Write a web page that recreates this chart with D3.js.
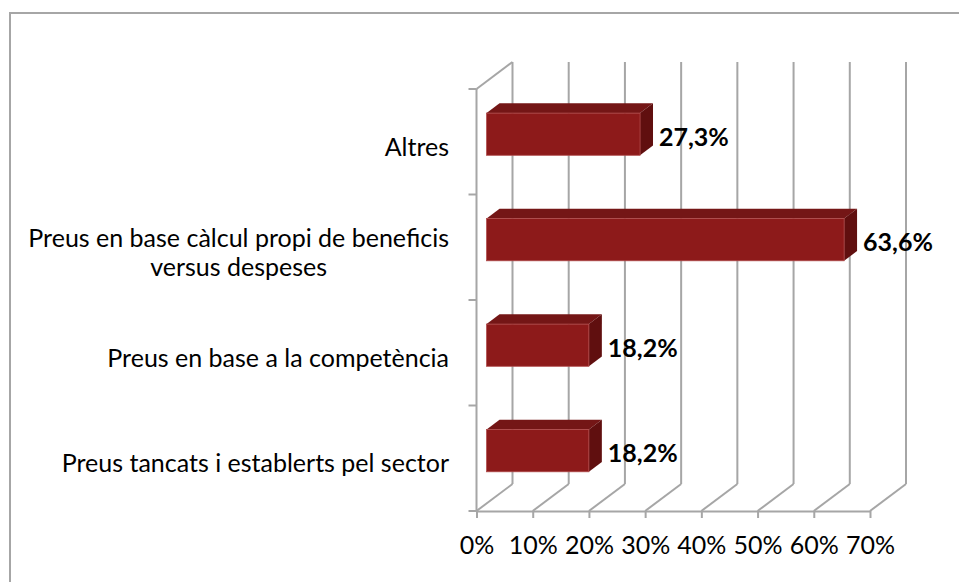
<!DOCTYPE html>
<html>
<head>
<meta charset="utf-8">
<script src="https://cdn.jsdelivr.net/npm/d3@7"></script>
<style>
  body { margin: 0; background: #fff; }
  svg { display: block; font-family: Lato, "Open Sans", sans-serif; }
</style>
</head>
<body>
<div id="chart"></div>
<script>
// chart data
var categories = [
  "Altres",
  "Preus en base càlcul propi de beneficis versus despeses",
  "Preus en base a la competència",
  "Preus tancats i establerts pel sector"
];
var values = [0.273, 0.636, 0.182, 0.182];
var tickValues = [0, 0.1, 0.2, 0.3, 0.4, 0.5, 0.6, 0.7];

var svgWidth = 959, svgHeight = 582;

var svg = d3.select("#chart")
  .append("svg")
  .attr("width", svgWidth)
  .attr("height", svgHeight);

// outer frame (runs off the picture on the right and bottom)
svg.append("rect")
  .attr("x", 10).attr("y", 13)
  .attr("width", 980).attr("height", 620)
  .attr("fill", "#fff")
  .attr("stroke", "#a6a6a6")
  .attr("stroke-width", 2);

// front plane of the 3d plot
var plot = { left: 476.5, right: 870, top: 89, bottom: 511 };
// depth offset of the back wall
var depth = { dx: 36, dy: -27 };
var barFront = 0.28, barBack = 0.64; // bar position inside the depth

var xScale = d3.scaleLinear()
  .domain([0, 0.7])
  .range([plot.left, plot.right]);

var yScale = d3.scaleBand()
  .domain(categories)
  .range([plot.top, plot.bottom])
  .padding(0);

var gridColor = "#a6a6a6";
var grid = svg.append("g")
  .attr("stroke", gridColor)
  .attr("stroke-width", 2)
  .attr("fill", "none");

// back wall verticals
grid.selectAll(".back")
  .data(tickValues)
  .enter()
  .append("line")
    .attr("x1", d => xScale(d) + depth.dx)
    .attr("x2", d => xScale(d) + depth.dx)
    .attr("y1", plot.bottom + depth.dy)
    .attr("y2", plot.top + depth.dy);

// floor diagonals
grid.selectAll(".floor")
  .data(tickValues)
  .enter()
  .append("line")
    .attr("x1", d => xScale(d))
    .attr("y1", plot.bottom)
    .attr("x2", d => xScale(d) + depth.dx)
    .attr("y2", plot.bottom + depth.dy);

// side wall: front vertical edge and top diagonal
grid.append("line")
  .attr("x1", xScale(0)).attr("x2", xScale(0))
  .attr("y1", plot.top).attr("y2", plot.bottom);
grid.append("line")
  .attr("x1", xScale(0)).attr("y1", plot.top)
  .attr("x2", xScale(0) + depth.dx).attr("y2", plot.top + depth.dy);

// category ticks on the left edge
var catTicks = yScale.domain().map(c => yScale(c)).concat([plot.bottom]);
grid.selectAll(".ytick")
  .data(catTicks)
  .enter()
  .append("line")
    .attr("x1", xScale(0) - 8)
    .attr("x2", xScale(0))
    .attr("y1", d => d)
    .attr("y2", d => d);

// x axis along the front floor edge
var locale = d3.formatLocale({ decimal: ",", thousands: ".", grouping: [3], currency: ["", "€"] });
var xAxis = d3.axisBottom(xScale)
  .tickValues(tickValues)
  .tickFormat(d3.format(".0%"))
  .tickSize(7)
  .tickSizeOuter(0)
  .tickPadding(18);

var xg = svg.append("g")
  .attr("transform", `translate(0, ${plot.bottom})`)
  .call(xAxis);
xg.select(".domain").attr("stroke", gridColor).attr("stroke-width", 2);
xg.selectAll(".tick line").attr("stroke", gridColor).attr("stroke-width", 2);
xg.selectAll(".tick text")
  .attr("fill", "#000")
  .style("font-family", "Lato, 'Open Sans', sans-serif")
  .style("font-size", "25px");

// bars
var barH = yScale.bandwidth() * 0.4;
var fx = barFront * depth.dx, fy = barFront * depth.dy;
var bx = barBack * depth.dx, by = barBack * depth.dy;

var bars = svg.append("g").selectAll(".bar")
  .data(categories.map((c, i) => ({ cat: c, value: values[i] })))
  .enter()
  .append("g");

function face(d) {
  var y0 = yScale(d.cat) + yScale.bandwidth() / 2 - barH / 2;
  return { x0: xScale(0), x1: xScale(d.value), y0: y0, y1: y0 + barH };
}

// top face
bars.append("path")
  .attr("fill", "#741616")
  .attr("d", d => {
    var f = face(d);
    return `M${f.x0 + fx},${f.y0 + fy} L${f.x1 + fx},${f.y0 + fy} L${f.x1 + bx},${f.y0 + by} L${f.x0 + bx},${f.y0 + by} Z`;
  });

// right side face
bars.append("path")
  .attr("fill", "#600f0f")
  .attr("d", d => {
    var f = face(d);
    return `M${f.x1 + fx},${f.y0 + fy} L${f.x1 + bx},${f.y0 + by} L${f.x1 + bx},${f.y1 + by} L${f.x1 + fx},${f.y1 + fy} Z`;
  });

// front face
bars.append("rect")
  .attr("fill", "#8d1a1a")
  .attr("stroke", "#b04a4a")
  .attr("stroke-width", 0.8)
  .attr("x", d => face(d).x0 + fx)
  .attr("y", d => face(d).y0 + fy)
  .attr("width", d => face(d).x1 - face(d).x0)
  .attr("height", barH);

// value labels
var pct = locale.format(".1%");
bars.append("text")
  .attr("x", d => face(d).x1 + bx + 6)
  .attr("y", d => (face(d).y0 + face(d).y1) / 2 + fy + 3)
  .attr("dy", "0.35em")
  .attr("fill", "#000")
  .style("font-weight", "bold")
  .style("font-size", "25px")
  .text(d => pct(d.value));

// category labels, wrapped to the space left of the plot
var labels = svg.append("g").selectAll(".cat")
  .data(categories)
  .enter()
  .append("text")
    .attr("text-anchor", "middle")
    .attr("fill", "#000")
    .style("font-size", "25px");

var labelRight = 449, maxWidth = 430;
labels.each(function(c) {
  var t = d3.select(this);
  var words = c.split(" ");
  var lines = [], line = [];
  var probe = t.append("tspan");
  words.forEach(w => {
    line.push(w);
    probe.text(line.join(" "));
    if (probe.node().getComputedTextLength() > maxWidth && line.length > 1) {
      line.pop();
      lines.push(line.join(" "));
      line = [w];
    }
  });
  lines.push(line.join(" "));
  probe.remove();

  var widest = 0;
  lines.forEach(l => {
    probe = t.append("tspan").text(l);
    widest = Math.max(widest, probe.node().getComputedTextLength());
    probe.remove();
  });

  var cx = labelRight - widest / 2;
  var lineH = 29;
  var cy = yScale(c) + yScale.bandwidth() / 2 + 5;
  lines.forEach((l, i) => {
    t.append("tspan")
      .attr("x", cx)
      .attr("y", cy + (i - (lines.length - 1) / 2) * lineH)
      .attr("dy", "0.35em")
      .text(l);
  });
});
</script>
</body>
</html>
